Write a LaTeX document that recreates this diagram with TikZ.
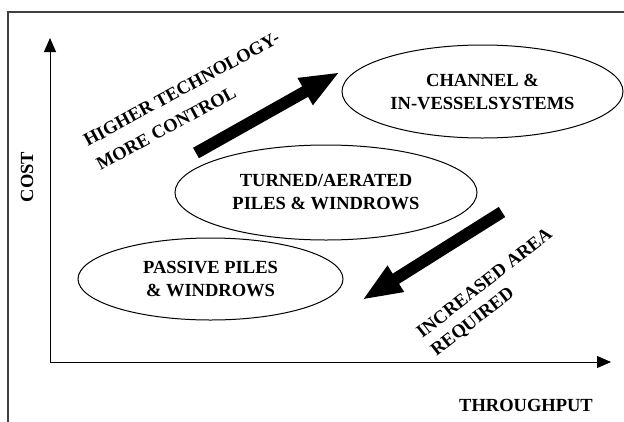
\documentclass[tikz,border=0pt]{standalone}
\usepackage{fontspec}
\setmainfont{Liberation Serif}
\usetikzlibrary{shapes.geometric,arrows.meta}

\begin{document}
\begin{tikzpicture}[
  x=1pt, y=1pt,
  every node/.style={font=\bfseries\fontsize{18.5}{23}\selectfont},
  zone/.style={draw, ellipse, line width=1pt, inner sep=0pt, align=center},
  trend/.style={line width=12pt, -{Triangle[length=40pt,width=28pt]}},
  axis/.style={line width=1pt, -{Triangle[length=14pt,width=12pt]}}
]
\useasboundingbox (0,0) rectangle (624,-421);
% frame (only top and left edge show):
\draw [line width=1.3pt, black!75] (8,-430) -- (8,-12) -- (640,-12);

% axes:
\coordinate (origin) at (50,-362);
\coordinate (ytop) at (50,-38);
\coordinate (xend) at (611,-362);
\draw [axis] (origin) -- (ytop);
\draw [axis] (origin) -- (xend);
\node (cost) [rotate=90] at (27,-177) {COST};
\node (thru) at (526,-405) {THROUGHPUT};

% the three systems:
\node (channel) [zone, minimum width=281pt, minimum height=93pt] at (482.5,-91.5) {CHANNEL \&\\IN-VESSELSYSTEMS};
\node (turned) [zone, minimum width=302pt, minimum height=95pt] at (326,-192.5) {TURNED/AERATED\\PILES \& WINDROWS};
\node (passive) [zone, minimum width=265pt, minimum height=82pt] at (210.5,-279) {PASSIVE PILES\\\& WINDROWS};

% big arrows + their labels
\coordinate (techtail) at (196,-153);
\coordinate (techtip) at (340,-72);
\coordinate (areatail) at (502,-212);
\coordinate (areatip) at (362,-300);
\draw [trend] (techtail) -- (techtip);
\draw [trend] (areatail) -- (areatip);
\node (tech) [rotate=28.5, align=left, font=\bfseries\fontsize{18.5}{27}\selectfont] at (188,-101) {HIGHER TECHNOLOGY-\\MORE CONTROL};
\node (area) [rotate=38, align=left] at (492,-293) {INCREASED AREA\\REQUIRED};

\end{tikzpicture}
\end{document}
